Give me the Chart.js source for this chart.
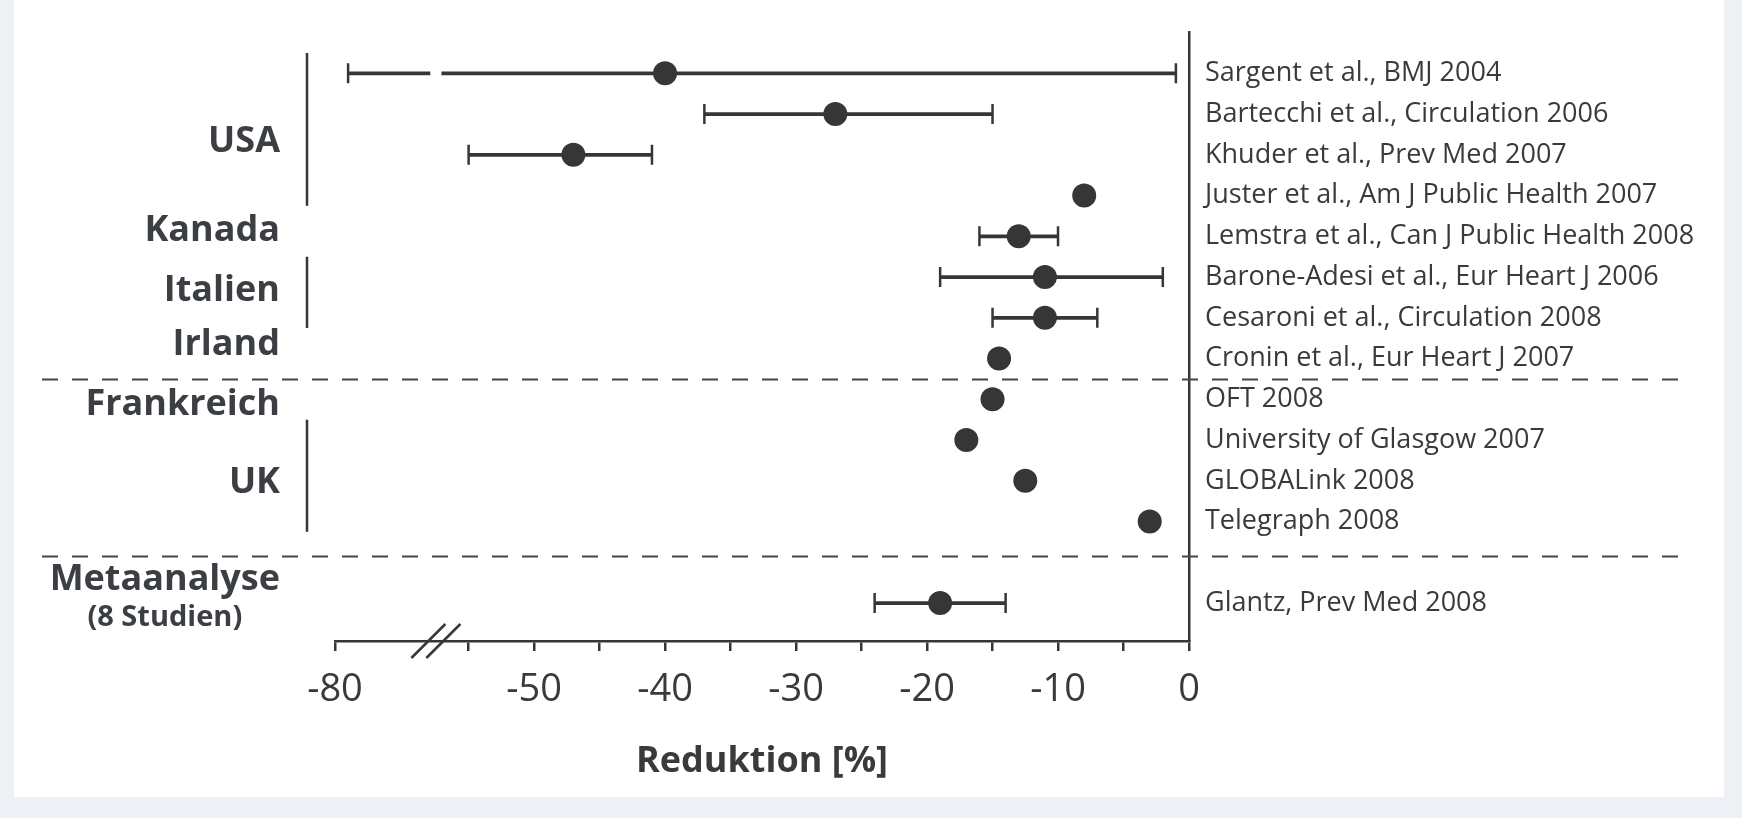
<!DOCTYPE html>
<html>
<head>
<meta charset="utf-8">
<script src="https://cdn.jsdelivr.net/npm/chart.js@4.4.1/dist/chart.umd.min.js"></script>
<style>
  html, body { margin: 0; padding: 0; background: #fff; }
  canvas { display: block; }
</style>
</head>
<body>
<canvas id="forestChart" width="1742" height="818"></canvas>
<script>
// Rauchverbot-Studien: Rückgang der Herzinfarkt-Einweisungen
const studies = [
    'Sargent et al., BMJ 2004',
    'Bartecchi et al., Circulation 2006',
    'Khuder et al., Prev Med 2007',
    'Juster et al., Am J Public Health 2007',
    'Lemstra et al., Can J Public Health 2008',
    'Barone-Adesi et al., Eur Heart J 2006',
    'Cesaroni et al., Circulation 2008',
    'Cronin et al., Eur Heart J 2007',
    'OFT 2008',
    'University of Glasgow 2007',
    'GLOBALink 2008',
    'Telegraph 2008',
    'Glantz, Prev Med 2008'
];
const estimate = [-40, -27, -47, -8, -13, -11, -11, -14.5, -15, -17, -12.5, -3, -19];
const ciLow    = [-79, -37, -55, null, -16, -19, -15, null, null, null, null, null, -24];
const ciHigh   = [-1, -15, -41, null, -10, -2, -7, null, null, null, null, null, -14];

const groups     = ['USA', 'Kanada', 'Italien', 'Irland', 'Frankreich', 'UK', 'Metaanalyse'];
const groupSizes = [4, 1, 2, 1, 1, 3, 1];
const metaNote   = '(8 Studien)';

const xTicks = [-80, -55, -50, -45, -40, -35, -30, -25, -20, -15, -10, -5, 0];

// layout only: small vertical shifts of the group names (in rows)
const groupNudge = [0.17, -0.13, -0.17, -0.33, 0.14, 0.05, 0];

// broken axis: everything below -65 is pulled to the right
const BREAK_FROM = -65;
const BREAK_SHIFT = 14.8;
const GAP = [-57.95, -57.05];
function tx(v) { return v < BREAK_FROM ? v + BREAK_SHIFT : v; }

// meta-analysis sits one empty row below the single studies
function rowOf(i) { return i === studies.length - 1 ? i + 1 : i; }

const INK = '#363636';

const dots = estimate.map((v, i) => ({x: tx(v), y: rowOf(i)}));
const caps = [];
const whiskers = [];
studies.forEach((s, i) => {
    if (ciLow[i] === null) return;
    const a = tx(ciLow[i]), b = tx(ciHigh[i]), r = rowOf(i);
    caps.push({x: a, y: r}, {x: b, y: r});
    if (a < GAP[0] && b > GAP[1]) {
        whiskers.push({x: [a, GAP[0]], y: r}, {x: [GAP[1], b], y: r});
    } else {
        whiskers.push({x: [a, b], y: r});
    }
});

const decor = {
    id: 'decor',
    beforeDraw(chart) {
        const ctx = chart.ctx;
        ctx.save();
        ctx.fillStyle = '#edf1f5';
        ctx.fillRect(0, 0, chart.width, chart.height);
        ctx.fillStyle = '#ffffff';
        ctx.fillRect(14, 0, 1710, 797);
        ctx.restore();
    },
    beforeDatasetsDraw(chart) {
        const ctx = chart.ctx;
        const y = chart.scales.y;
        ctx.save();
        ctx.strokeStyle = '#444';
        ctx.lineWidth = 2;
        ctx.setLineDash([16, 14]);
        [7.5, 11.85].forEach(r => {
            const py = Math.round(y.getPixelForValue(r)) + 0.5;
            ctx.beginPath();
            ctx.moveTo(42, py);
            ctx.lineTo(1692, py);
            ctx.stroke();
        });
        ctx.restore();
    },
    afterDraw(chart) {
        const ctx = chart.ctx;
        const x = chart.scales.x, y = chart.scales.y;
        ctx.save();
        ctx.fillStyle = '#3b3e43';
        ctx.strokeStyle = INK;
        ctx.lineWidth = 2.5;
        ctx.textAlign = 'right';
        ctx.textBaseline = 'middle';
        ctx.font = 'bold 36px "Open Sans"';
        let first = 0;
        groups.forEach((g, k) => {
            const rows = [];
            for (let i = first; i < first + groupSizes[k]; i++) rows.push(rowOf(i));
            first += groupSizes[k];
            const lo = rows[0], hi = rows[rows.length - 1];
            const mid = y.getPixelForValue((lo + hi) / 2 + groupNudge[k]);
            if (rows.length > 1) {
                ctx.beginPath();
                ctx.moveTo(307, y.getPixelForValue(lo - 0.5));
                ctx.lineTo(307, y.getPixelForValue(hi + 0.25));
                ctx.stroke();
            }
            if (k === groups.length - 1) {
                ctx.fillText(g, 280, mid - 23);
                const w = ctx.measureText(g).width;
                ctx.textAlign = 'center';
                ctx.font = 'bold 29px "Open Sans"';
                ctx.fillText(metaNote, 280 - w / 2, mid + 15);
                ctx.textAlign = 'right';
                ctx.font = 'bold 36px "Open Sans"';
            } else {
                ctx.fillText(g, 280, mid);
            }
        });
        // axis break
        const cx = x.getPixelForValue((GAP[0] + GAP[1]) / 2);
        const cy = chart.chartArea.bottom;
        ctx.lineWidth = 2.5;
        [-7.5, 7.5].forEach(d => {
            ctx.beginPath();
            ctx.moveTo(cx + d - 17, cy + 17);
            ctx.lineTo(cx + d + 17, cy - 17);
            ctx.stroke();
        });
        ctx.restore();
    }
};

new Chart(document.getElementById('forestChart'), {
    type: 'bar',
    data: {
        datasets: [
            {
                type: 'scatter',
                data: dots,
                pointRadius: 12,
                pointBackgroundColor: INK,
                pointBorderWidth: 0
            },
            {
                type: 'scatter',
                data: caps,
                pointStyle: 'line',
                rotation: 90,
                pointRadius: 10,
                pointBorderColor: INK,
                pointBorderWidth: 2.5
            },
            {
                type: 'bar',
                indexAxis: 'y',
                data: whiskers,
                barThickness: 3,
                backgroundColor: INK,
                borderWidth: 0
            }
        ]
    },
    options: {
        responsive: false,
        animation: false,
        events: [],
        layout: { padding: { left: 335, top: 28, right: 0, bottom: 0 } },
        plugins: { legend: { display: false }, tooltip: { enabled: false } },
        scales: {
            x: {
                type: 'linear',
                position: 'bottom',
                offset: false,
                beginAtZero: false,
                min: tx(-80),
                max: 0,
                afterBuildTicks: s => { s.ticks = xTicks.map(v => ({ value: tx(v) })); },
                afterFit: s => { s.height = 177; },
                grid: { offset: false, drawOnChartArea: false, drawTicks: true, tickLength: 10, color: INK, lineWidth: 2.5 },
                border: { display: true, color: INK, width: 2.5 },
                ticks: {
                    autoSkip: false,
                    maxRotation: 0,
                    padding: 16,
                    color: '#3a3a3a',
                    font: { family: '"Open Sans"', size: 38 },
                    callback: (v, i) => (xTicks[i] % 10 === 0 ? String(xTicks[i]) : '')
                },
                title: {
                    display: true,
                    text: 'Reduktion [%]',
                    color: '#3a3a3a',
                    font: { family: '"Open Sans"', size: 36, weight: 'bold' },
                    padding: { top: 0, bottom: 35 }
                }
            },
            y: {
                type: 'linear',
                position: 'right',
                reverse: true,
                offset: false,
                beginAtZero: false,
                min: -1.01,
                max: 13.93,
                afterBuildTicks: s => { s.ticks = studies.map((t, i) => ({ value: rowOf(i) })); },
                afterFit: s => { s.width = 553; },
                grid: { display: false, offset: false, drawTicks: false },
                border: { display: true, color: INK, width: 2.5 },
                ticks: {
                    autoSkip: false,
                    padding: 16,
                    color: '#3a3a3a',
                    font: { family: '"Open Sans"', size: 27 },
                    callback: (v, i) => studies[i]
                }
            }
        }
    },
    plugins: [decor]
});
</script>
</body>
</html>
